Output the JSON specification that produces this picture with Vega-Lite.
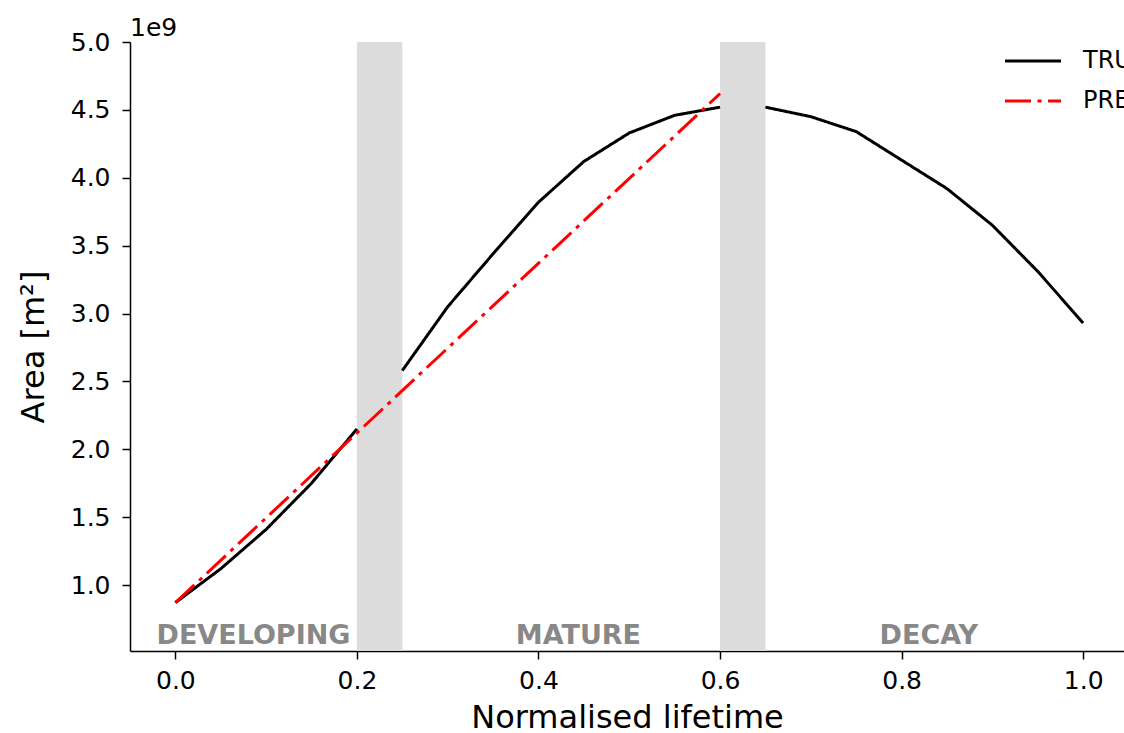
{
  "$schema": "https://vega.github.io/schema/vega-lite/v6.json",
  "autosize": {"type": "none"},
  "width": 994,
  "height": 609,
  "padding": {"left": 130, "top": 42, "right": 0, "bottom": 82},
  "background": "white",
  "title": {"text": "1e9", "anchor": "start", "frame": "group", "fontSize": 25, "font": "DejaVu Sans", "fontWeight": "normal", "color": "#000000", "baseline": "alphabetic", "offset": 0, "dy": 31},
  "datasets": {
    "lines": [
      {"series": "TRUE", "seg": "dev", "t": 0.0, "area": 870000000},
      {"series": "TRUE", "seg": "dev", "t": 0.05, "area": 1120000000},
      {"series": "TRUE", "seg": "dev", "t": 0.1, "area": 1410000000},
      {"series": "TRUE", "seg": "dev", "t": 0.15, "area": 1750000000},
      {"series": "TRUE", "seg": "dev", "t": 0.2, "area": 2150000000},
      {"series": "TRUE", "seg": "mat", "t": 0.25, "area": 2580000000},
      {"series": "TRUE", "seg": "mat", "t": 0.3, "area": 3050000000},
      {"series": "TRUE", "seg": "mat", "t": 0.35, "area": 3440000000},
      {"series": "TRUE", "seg": "mat", "t": 0.4, "area": 3820000000},
      {"series": "TRUE", "seg": "mat", "t": 0.45, "area": 4120000000},
      {"series": "TRUE", "seg": "mat", "t": 0.5, "area": 4330000000},
      {"series": "TRUE", "seg": "mat", "t": 0.55, "area": 4460000000},
      {"series": "TRUE", "seg": "mat", "t": 0.6, "area": 4520000000},
      {"series": "TRUE", "seg": "dec", "t": 0.65, "area": 4520000000},
      {"series": "TRUE", "seg": "dec", "t": 0.7, "area": 4450000000},
      {"series": "TRUE", "seg": "dec", "t": 0.75, "area": 4340000000},
      {"series": "TRUE", "seg": "dec", "t": 0.8, "area": 4130000000},
      {"series": "TRUE", "seg": "dec", "t": 0.85, "area": 3920000000},
      {"series": "TRUE", "seg": "dec", "t": 0.9, "area": 3650000000},
      {"series": "TRUE", "seg": "dec", "t": 0.95, "area": 3310000000},
      {"series": "TRUE", "seg": "dec", "t": 1.0, "area": 2930000000},
      {"series": "PRED", "seg": "pred", "t": 0.0, "area": 870000000},
      {"series": "PRED", "seg": "pred", "t": 0.6, "area": 4620000000}
    ],
    "bands": [
      {"start": 0.2, "end": 0.25},
      {"start": 0.6, "end": 0.65}
    ],
    "phases": [
      {"label": "DEVELOPING", "t": 0.086, "area": 625000000},
      {"label": "MATURE", "t": 0.444, "area": 625000000},
      {"label": "DECAY", "t": 0.83, "area": 625000000}
    ]
  },
  "layer": [
    {
      "data": {"name": "bands"},
      "mark": {"type": "rect", "color": "#dcdcdc"},
      "encoding": {
        "x": {"field": "start", "type": "quantitative", "scale": {"domain": [-0.05, 1.045], "nice": false, "zero": false}},
        "x2": {"field": "end"}
      }
    },
    {
      "data": {"name": "lines"},
      "mark": {"type": "line", "strokeWidth": 3, "strokeCap": "butt", "clip": true},
      "encoding": {
        "x": {"field": "t", "type": "quantitative",
          "scale": {"domain": [-0.05, 1.045], "nice": false, "zero": false},
          "axis": {"values": [0, 0.2, 0.4, 0.6, 0.8, 1.0], "format": ".1f", "title": "Normalised lifetime", "labelPadding": 9, "titlePadding": 9}},
        "y": {"field": "area", "type": "quantitative",
          "scale": {"domain": [514000000, 5000000000], "nice": false, "zero": false},
          "axis": {"values": [1000000000, 1500000000, 2000000000, 2500000000, 3000000000, 3500000000, 4000000000, 4500000000, 5000000000], "labelExpr": "format(datum.value / 1e9, '.1f')", "title": "Area [m²]", "labelPadding": 12, "titlePadding": 20}},
        "color": {"field": "series", "type": "nominal",
          "scale": {"domain": ["TRUE", "PRED"], "range": ["#000000", "#ff0000"]},
          "legend": {"title": null, "orient": "none", "legendX": 891, "legendY": 7, "symbolType": "M-28,0H28", "symbolSize": 4, "symbolStrokeWidth": 3, "labelFontSize": 24, "labelFont": "DejaVu Sans", "labelColor": "#000000", "labelOffset": 38, "rowPadding": 16, "symbolFillColor": "transparent"}},
        "strokeDash": {"field": "series", "type": "nominal",
          "scale": {"domain": ["TRUE", "PRED"], "range": [[1, 0], [26, 6.5, 4, 6.5]]},
          "legend": {"title": null, "orient": "none", "legendX": 891, "legendY": 7, "symbolType": "M-28,0H28", "symbolSize": 4, "symbolStrokeWidth": 3, "labelFontSize": 24, "labelFont": "DejaVu Sans", "labelColor": "#000000", "labelOffset": 38, "rowPadding": 16, "symbolFillColor": "transparent"}},
        "detail": {"field": "seg", "type": "nominal"}
      }
    },
    {
      "data": {"name": "phases"},
      "mark": {"type": "text", "fontWeight": "bold", "fontSize": 27, "font": "DejaVu Sans", "color": "#888888", "align": "center", "baseline": "middle"},
      "encoding": {
        "x": {"field": "t", "type": "quantitative"},
        "y": {"field": "area", "type": "quantitative"},
        "text": {"field": "label"}
      }
    }
  ],
  "config": {
    "view": {"stroke": null},
    "font": "DejaVu Sans",
    "axis": {
      "grid": false,
      "domainColor": "#000000",
      "domainWidth": 1.5,
      "tickColor": "#000000",
      "tickWidth": 1.5,
      "tickSize": 8,
      "labelFont": "DejaVu Sans",
      "labelFontSize": 25,
      "labelColor": "#000000",
      "titleFont": "DejaVu Sans",
      "titleFontSize": 32,
      "titleFontWeight": "normal",
      "titleColor": "#000000"
    }
  }
}
